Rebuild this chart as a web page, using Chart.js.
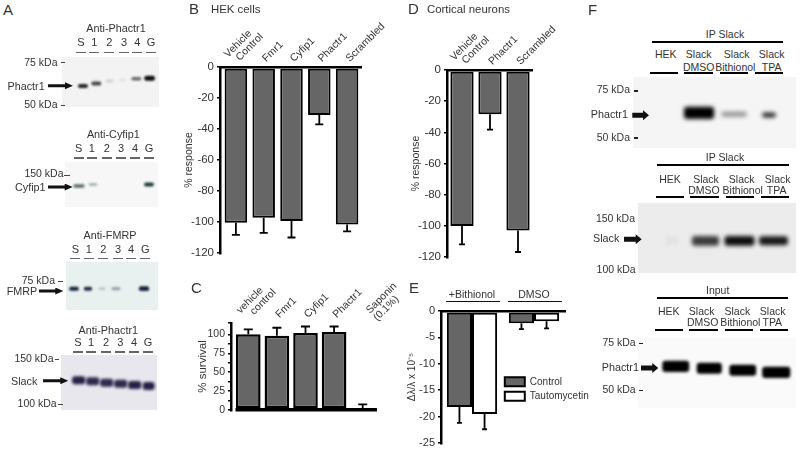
<!DOCTYPE html>
<html>
<head>
<meta charset="utf-8">
<script src="https://cdn.jsdelivr.net/npm/chart.js@4"></script>
<style>
  html, body { margin: 0; padding: 0; background: #fff; }
  #fig { position: relative; width: 800px; height: 452px; overflow: hidden; font-family: "Liberation Sans", Arial, sans-serif; color: #333; }
  #fig canvas { position: absolute; }
  .t { position: absolute; white-space: nowrap; line-height: 1; }
  .r { position: absolute; }
</style>
</head>
<body>
<div id="fig"></div>
<script>
// panel B
const hekCats = [["Vehicle", "  Control"], "Fmr1", "Cyfip1", "Phactr1", "Scrambled"];
const hekMean = [-100.5, -97.3, -99.3, -31, -101.6];
const hekErr = [-108.3, -107, -110, -37, -106];
const responseTicks = [0, -20, -40, -60, -80, -100, -120];

// panel C
const survCats = [["vehicle", "   control"], "Fmr1", "Cyfip1", "Phactr1", ["Saponin", "(0.1%)"]];
const survMean = [100, 98.3, 101.7, 103, 2.6];
const survErr = [106.5, 108.7, 110.4, 110.4, 7.4];

// panel D
const neuronCats = [["Vehicle", "  Control"], "Phactr1", "Scrambled"];
const neuronMean = [-100.1, -28.4, -103];
const neuronErr = [-111.9, -38.2, -116.8];

// panel E
const shiftCats = ["+Bithionol", "DMSO"];
const shiftControl = [-18.2, -2.3];
const shiftControlErr = [-21.2, -3.45];
const shiftTauto = [-19.5, -1.95];
const shiftTautoErr = [-22.4, -3.3];

// blots: band edges are % of the plate height, intensity 0-1, width is the share of a lane
const fracLanes = ["S", "1", "2", "3", "4", "G"];
const ipLanes = ["HEK", "DMSO", "Bithionol", "TPA"];

const a1Top = [54, 49, 45, 44, 40, 37.6];
const a1Bottom = [62, 57, 51, 48, 47, 47.6];
const a1Level = [0.9, 0.75, 0.15, 0.08, 0.6, 1];
const a1Width = [0.75, 0.75, 0.6, 0.55, 0.75, 0.8];

const a2Top = [49.4, 47.2, null, null, null, 45.6];
const a2Bottom = [57.2, 52.8, null, null, null, 54.4];
const a2Level = [0.7, 0.4, 0, 0, 0, 0.95];
const a2Width = [0.8, 0.6, 0, 0, 0, 0.7];

const a3Top = [51.5, 51.5, 52.5, 52, null, 50.5];
const a3Bottom = [59.8, 59.8, 58.5, 59, null, 60.5];
const a3Level = [0.95, 0.9, 0.2, 0.35, 0, 0.95];
const a3Width = [0.7, 0.6, 0.5, 0.65, 0, 0.75];

const a4Top = [38.7, 40.5, 43, 44.9, 47.3, 49.1];
const a4Bottom = [53.2, 55, 57.5, 59.4, 61.8, 63.6];
const a4Level = [0.95, 0.9, 0.9, 0.9, 0.95, 0.95];
const a4Width = [0.95, 0.95, 0.95, 0.95, 0.95, 0.85];

const f1Top = [null, 42, 49, 50];
const f1Bottom = [null, 59, 56, 57];
const f1Level = [0, 1, 0.4, 0.85];
const f1Width = [0, 0.86, 0.74, 0.4];

const f2Top = [47.3, 47, 47, 47.5];
const f2Bottom = [60.3, 61, 61, 60.5];
const f2Level = [0.04, 0.75, 0.95, 0.9];
const f2Width = [0.4, 0.8, 0.88, 0.85];

const f3Top = [32.5, 35.3, 38.2, 41.1];
const f3Bottom = [48.4, 51.2, 54.1, 57];
const f3Level = [1, 1, 1, 1];
const f3Width = [0.8, 0.75, 0.8, 0.84];

const fig = document.getElementById("fig");
const FONT = '"Liberation Sans", Arial, sans-serif';

function text(str, x, base, size, anchor) {
    const d = document.createElement("div");
    d.className = "t";
    d.textContent = str;
    d.style.fontSize = size + "px";
    d.style.top = (base - size * 0.8465) + "px";
    if (anchor === "right") d.style.right = (800 - x) + "px";
    else d.style.left = x + "px";
    if (anchor === "center") d.style.transform = "translateX(-50%)";
    fig.appendChild(d);
}

function rule(x0, x1, y, h, color) {
    const d = document.createElement("div");
    d.className = "r";
    d.style.cssText = "left:" + x0 + "px;width:" + (x1 - x0) + "px;top:" + (y - h / 2) + "px;height:" + h + "px;background:" + color;
    fig.appendChild(d);
}

function arrow(x0, x1, y, shaft, head, len) {
    const d = document.createElement("div");
    const w = x1 - x0, a = (head - shaft) / 2;
    d.className = "r";
    d.style.cssText = "left:" + x0 + "px;width:" + w + "px;top:" + (y - head / 2) + "px;height:" + head + "px;background:#111;" +
        "clip-path:polygon(0 " + a + "px," + (w - len) + "px " + a + "px," + (w - len) + "px 0," + w + "px " + head / 2 + "px," +
        (w - len) + "px " + head + "px," + (w - len) + "px " + (head - a) + "px,0 " + (head - a) + "px)";
    fig.appendChild(d);
}

const errorBars = {
    id: "errorBars",
    afterDatasetsDraw(chart) {
        const ctx = chart.ctx, y = chart.scales.y;
        chart.data.datasets.forEach((ds, i) => {
            if (!ds.errorTo) return;
            chart.getDatasetMeta(i).data.forEach((bar, k) => {
                const py = y.getPixelForValue(ds.errorTo[k]);
                ctx.save();
                ctx.strokeStyle = "#000";
                ctx.lineWidth = 1.8;
                ctx.beginPath();
                ctx.moveTo(bar.x, bar.y);
                ctx.lineTo(bar.x, py);
                ctx.moveTo(bar.x - ds.errorCap / 2, py);
                ctx.lineTo(bar.x + ds.errorCap / 2, py);
                ctx.stroke();
                ctx.restore();
            });
        });
    }
};

// the y axis line sits a little left of the first category, move it there and place the legend
const axisNudge = {
    id: "axisNudge",
    afterLayout(chart, args, opts) {
        chart.scales.y.left -= opts.gap;
        chart.scales.y.right -= opts.gap;
        if (opts.legendX !== undefined) {
            const lg = chart.legend;
            lg.left = opts.legendX;
            lg.top = opts.legendY;
            lg.right = opts.legendX + lg.width + 4;
            lg.bottom = opts.legendY + 40;
        }
    },
    // a few two line labels sit off their tick in the original
    beforeDraw(chart, args, opts) {
        const items = chart.scales.x.getLabelItems();
        (opts.labelShift || []).forEach(s => {
            const tr = items[s[0]].options.translation;
            tr[0] += s[1];
            tr[1] += s[2];
        });
    }
};

function barPanel(p) {
    const yw = 48, xh = p.xh;
    const cv = document.createElement("canvas");
    const left = p.left - yw, top = p.top - xh;
    const w = p.right - left + (p.extra || 4), h = p.bottom - top + 6;
    cv.width = w; cv.height = h;
    cv.style.left = left + "px";
    cv.style.top = top + "px";
    fig.appendChild(cv);
    const lh = p.titleSize * 1.2;
    return new Chart(cv, {
        type: "bar",
        data: { labels: p.labels, datasets: p.datasets },
        plugins: [errorBars, axisNudge],
        options: {
            responsive: false,
            animation: false,
            layout: { padding: { left: 0, top: 0, right: w - yw - (p.right - p.left), bottom: h - xh - (p.bottom - p.top) } },
            plugins: {
                tooltip: { enabled: false },
                legend: p.legend || { display: false },
                axisNudge: {
                    gap: p.gap,
                    labelShift: p.labelShift,
                    legendX: p.legendX === undefined ? undefined : p.legendX - left,
                    legendY: p.legendY === undefined ? undefined : p.legendY - top
                }
            },
            scales: {
                x: {
                    position: "top",
                    afterFit: s => { s.height = xh; s.paddingLeft = 0; s.paddingRight = 0; },
                    grid: { display: false },
                    border: { display: p.xBorder !== false, color: "#000", width: 2.5 },
                    ticks: {
                        color: "#333", autoSkip: false,
                        font: { family: FONT, size: p.xSize || 10.5, lineHeight: 1 },
                        minRotation: p.rotation, maxRotation: p.rotation,
                        padding: p.xPad,
                        labelOffset: p.xShift || 0
                    }
                },
                y: {
                    min: p.min, max: p.max,
                    afterFit: s => { s.width = yw; s.paddingTop = 0; s.paddingBottom = 0; },
                    border: { color: "#000", width: 2.5 },
                    grid: {
                        drawOnChartArea: !!p.zeroLine,
                        color: c => (c.tick && c.tick.value === 0 ? "#000" : "rgba(0,0,0,0)"),
                        lineWidth: 3.5,
                        tickColor: "#000", tickWidth: 1.5, tickLength: 3
                    },
                    ticks: {
                        color: "#333", autoSkip: false, padding: p.yPad || 3,
                        stepSize: p.step,
                        font: { family: FONT, size: p.ySize || 11.5 },
                        callback: p.tickText
                    },
                    title: {
                        display: true, text: p.title, color: "#333",
                        font: { family: FONT, size: p.titleSize },
                        padding: { top: p.titleX - (left - p.gap) - lh / 2, bottom: 0 }
                    }
                }
            }
        }
    });
}

function greyBars(mean, err, pct, cap, bw) {
    return [{
        data: mean, errorTo: err, errorCap: cap,
        backgroundColor: "#666", borderColor: "#000", borderWidth: bw, borderSkipped: false,
        categoryPercentage: pct, barPercentage: 1
    }];
}

barPanel({
    left: 222, right: 361, top: 67, bottom: 253, gap: 2, xh: 60, rotation: 45, xPad: -5, xShift: 8, extra: 50,
    labelShift: [[0, -3, 3]],
    labels: hekCats, datasets: greyBars(hekMean, hekErr, 0.81, 8, 2),
    min: responseTicks[6], max: responseTicks[0], step: 20,
    title: "% response", titleSize: 10.5, titleX: 189
});

barPanel({
    left: 234, right: 377.5, top: 323, bottom: 410.7, gap: 3, xh: 60, rotation: 45, xPad: -5, xShift: 8, extra: 50, xBorder: false, zeroLine: true,
    labelShift: [[0, -3, 3], [4, 12, 3]],
    labels: survCats, datasets: greyBars(survMean, survErr, 0.86, 9, 2.5),
    min: 0, max: 115, step: 12.5, ySize: 10.5,
    tickText: v => (v % 25 === 0 ? v : ""),
    title: "% survival", titleSize: 11.5, titleX: 203
});

barPanel({
    left: 447.7, right: 531.7, top: 69.5, bottom: 256.5, gap: 1, xh: 60, rotation: 45, xPad: -5, xShift: 8, extra: 50,
    labelShift: [[0, -3, 3]],
    labels: neuronCats, datasets: greyBars(neuronMean, neuronErr, 0.83, 6, 2),
    min: responseTicks[6], max: responseTicks[0], step: 20,
    title: "% response", titleSize: 10.5, titleX: 415.5
});

barPanel({
    left: 440.7, right: 564.7, top: 310.7, bottom: 443.3, gap: 0, xh: 40, rotation: 0, xPad: 3, xSize: 10.5, extra: 30,
    labels: shiftCats,
    datasets: [
        { label: "Control", data: shiftControl, errorTo: shiftControlErr, errorCap: 5, backgroundColor: "#666", borderColor: "#000", borderWidth: 2, borderSkipped: false, categoryPercentage: 0.81, barPercentage: 1 },
        { label: "Tautomycetin", data: shiftTauto, errorTo: shiftTautoErr, errorCap: 5, backgroundColor: "#fff", borderColor: "#000", borderWidth: 2, borderSkipped: false, categoryPercentage: 0.81, barPercentage: 1 }
    ],
    min: -25, max: 0, step: 5, ySize: 11,
    title: "Δλ/λ x 10⁻⁵", titleSize: 10, titleX: 411.5,
    legendX: 500, legendY: 372,
    legend: {
        display: true, position: "chartArea", align: "start",
        labels: { boxWidth: 20, boxHeight: 9, padding: 4.5, color: "#333", font: { family: FONT, size: 10 } }
    }
});

const blurBands = {
    id: "blurBands",
    beforeDatasetsDraw(chart, args, opts) { chart.ctx.save(); chart.ctx.filter = "blur(" + opts.radius + "px)"; },
    afterDatasetsDraw(chart) { chart.ctx.restore(); }
};

// one plate, lanes drawn as floating bars on a category axis
function blot(b) {
    const cv = document.createElement("canvas");
    const w = b.x1 - b.x0, h = b.y1 - b.y0;
    cv.width = w; cv.height = h;
    cv.style.left = b.x0 + "px";
    cv.style.top = b.y0 + "px";
    cv.style.background = b.bg;
    fig.appendChild(cv);
    const sets = b.lanes.map((lane, i) => ({
        data: b.lanes.map((l, k) => (k === i && b.top[i] !== null ? [b.top[i], b.bottom[i]] : null)),
        backgroundColor: "rgba(" + b.tint + "," + b.level[i] + ")",
        borderRadius: 3, borderSkipped: false,
        grouped: false, categoryPercentage: 1, barPercentage: b.width[i], clip: false
    }));
    new Chart(cv, {
        type: "bar",
        data: { labels: b.lanes, datasets: sets },
        plugins: [blurBands],
        options: {
            responsive: false,
            animation: false,
            layout: { padding: { left: b.laneLeft - b.x0, right: b.x1 - b.laneRight, top: 0, bottom: 0 } },
            plugins: { legend: { display: false }, tooltip: { enabled: false }, blurBands: { radius: b.blur } },
            scales: {
                x: { display: false },
                y: { display: false, reverse: true, min: 0, max: 100 }
            }
        }
    });
}

blot({ x0: 62, x1: 159, y0: 57, y1: 107, laneLeft: 76.3, laneRight: 156.3, blur: 1.2, bg: "#f3f3f3", tint: "15,15,15", lanes: fracLanes, top: a1Top, bottom: a1Bottom, level: a1Level, width: a1Width });
blot({ x0: 65, x1: 158, y0: 162, y1: 207, laneLeft: 72, laneRight: 156, blur: 1.2, bg: "#f6f7f6", tint: "20,50,50", lanes: fracLanes, top: a2Top, bottom: a2Bottom, level: a2Level, width: a2Width });
blot({ x0: 66, x1: 158, y0: 262, y1: 310, laneLeft: 67, laneRight: 151, blur: 1.2, bg: "#e9f0f0", tint: "12,24,50", lanes: fracLanes, top: a3Top, bottom: a3Bottom, level: a3Level, width: a3Width });
blot({ x0: 61, x1: 157, y0: 355, y1: 410, laneLeft: 71.7, laneRight: 155.7, blur: 1.4, bg: "#e8e7ee", tint: "28,20,60", lanes: fracLanes, top: a4Top, bottom: a4Bottom, level: a4Level, width: a4Width });
blot({ x0: 633, x1: 796, y0: 77, y1: 148, laneLeft: 646.5, laneRight: 786.5, blur: 2, bg: "#f5f5f5", tint: "0,0,0", lanes: ipLanes, top: f1Top, bottom: f1Bottom, level: f1Level, width: f1Width });
blot({ x0: 638, x1: 796, y0: 203, y1: 273, laneLeft: 654.5, laneRight: 790.5, blur: 2, bg: "#ececec", tint: "0,0,0", lanes: ipLanes, top: f2Top, bottom: f2Bottom, level: f2Level, width: f2Width });
blot({ x0: 638, x1: 796, y0: 338, y1: 408, laneLeft: 659, laneRight: 793, blur: 1.6, bg: "#fafafa", tint: "0,0,0", lanes: ipLanes, top: f3Top, bottom: f3Bottom, level: f3Level, width: f3Width });

// panel letters and headers
text("A", 3, 15, 15); text("B", 189, 14, 15); text("C", 191, 293, 15);
text("D", 408, 14, 15); text("E", 409, 293, 15); text("F", 588, 15, 15);
text("HEK cells", 211, 14, 11.4); text("Cortical neurons", 427, 14, 11.4);

// panel E group rules
rule(446.3, 500, 301.3, 1.4, "#111"); rule(508, 561.7, 301.3, 1.4, "#111");

// panel A labels
function laneRow(xs, base, under, half) {
    fracLanes.forEach((l, i) => {
        text(l, xs[i], base, 11, "center");
        rule(xs[i] - half, xs[i] + half, under, 1.2, "#666");
    });
}
text("Anti-Phactr1", 116, 32, 10.8, "center");
laneRow([81, 94.3, 109.3, 124, 137.3, 151], 46.7, 52.5, 5);
text("75 kDa", 57.5, 65.7, 10.5, "right"); rule(61, 65, 62.5, 1, "#444");
text("50 kDa", 57.5, 108.3, 10.5, "right"); rule(61, 65, 105, 1, "#444");
text("Phactr1", 7.5, 90, 10.8); arrow(48, 73, 85.7, 3, 7, 8);

text("Anti-Cyfip1", 113.3, 138.3, 10.8, "center");
laneRow([78.7, 91.7, 106.7, 121, 135, 149], 152.3, 158, 5);
text("150 kDa", 63.5, 177.3, 10.5, "right"); rule(64, 70, 175, 1, "#444");
text("Cyfip1", 15, 191, 10.8); arrow(47.7, 72.7, 187, 3, 7, 8);

text("Anti-FMRP", 110, 239.3, 10.8, "center");
laneRow([75.3, 88.7, 103.3, 118, 131, 145.3], 253.3, 258.7, 5);
text("75 kDa", 55, 283.7, 10.5, "right"); rule(58, 63, 281, 1, "#444");
text("FMRP", 6.7, 295.3, 10.8); arrow(39, 63.3, 291, 3, 7, 8);

text("Anti-Phactr1", 108.3, 334.3, 10.8, "center");
laneRow([78, 91, 106, 120.3, 134, 148], 346, 352, 5);
text("150 kDa", 53.5, 362, 10.5, "right"); rule(55, 59, 359.3, 1, "#444");
text("Slack", 11, 385.3, 10.8); arrow(42.7, 68.3, 380.7, 3, 7, 8);
text("100 kDa", 56.7, 407, 10.5, "right"); rule(58, 62.5, 404.3, 1, "#444");

// panel F labels
function ipHeader(title, titleX, titleBase, barX0, barX1, barY, row1, row2, base1, base2, under, underY) {
    text(title, titleX, titleBase, 10.5, "center");
    rule(barX0, barX1, barY, 2.4, "#000");
    text("HEK", row1[0], base1, 10.5, "center");
    text("Slack", row1[1], base1, 10.5, "center");
    text("Slack", row1[2], base1, 10.5, "center");
    text("Slack", row1[3], base1, 10.5, "center");
    text("DMSO", row2[0], base2, 10.5, "center");
    text("Bithionol", row2[1], base2, 10.5, "center");
    text("TPA", row2[2], base2, 10.5, "center");
    under.forEach(u => rule(u, u + 28.3, underY, 1.8, "#000"));
}
ipHeader("IP Slack", 725, 37.7, 651.7, 782.7, 41.7, [665.7, 698.7, 736.7, 771.7], [698.7, 735.3, 771.7], 58.3, 70.7, [650, 684.3, 720, 755], 73.3);
text("75 kDa", 630, 93.3, 10.5, "right"); rule(634, 638, 91, 1.4, "#222");
text("Phactr1", 590.7, 118.3, 10.8); arrow(632.3, 649, 115.3, 5, 10, 6);
text("50 kDa", 630, 140.7, 10.5, "right"); rule(634, 638, 138, 1.4, "#222");

ipHeader("IP Slack", 725, 161, 657.3, 788.7, 165, [670, 706, 741.7, 777.7], [704, 742.7, 776.7], 183.3, 194.3, [655.7, 690.3, 725.7, 760.7], 197);
text("150 kDa", 635, 221.7, 10.5, "right");
text("Slack", 593, 242, 10.8); arrow(624, 641.7, 239.3, 5, 10, 6);
text("100 kDa", 635.7, 273.3, 10.5, "right");

ipHeader("Input", 717.7, 294.3, 656.7, 788, 297.7, [668.7, 701.7, 737.3, 772.7], [702.7, 740.3, 772.3], 315, 326, [655, 689.3, 725, 760], 329.7);
text("75 kDa", 635.7, 346, 10.5, "right"); rule(639, 643, 343.3, 1.4, "#222");
text("Phactr1", 601.7, 371, 10.8); arrow(641, 658.3, 368, 5, 10, 6);
text("50 kDa", 635.7, 393.3, 10.5, "right"); rule(639, 643, 390.3, 1.4, "#222");
</script>
</body>
</html>
